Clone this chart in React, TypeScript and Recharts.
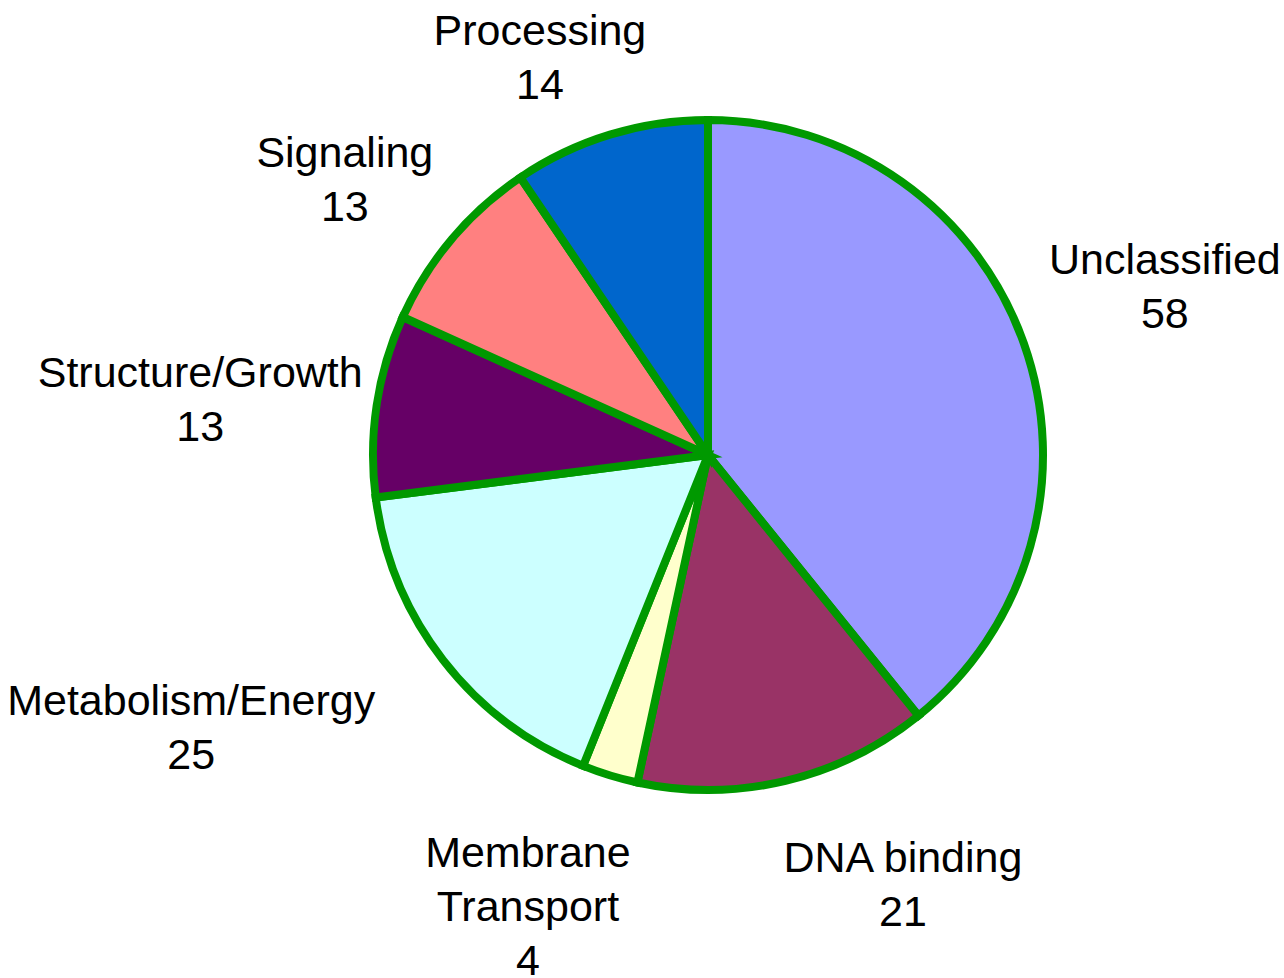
import { PieChart, Pie, Cell } from "recharts";

const categories = [
  "Unclassified",
  "DNA binding",
  "Membrane Transport",
  "Metabolism/Energy",
  "Structure/Growth",
  "Signaling",
  "Processing",
];
const counts = [58, 21, 4, 25, 13, 13, 14];
const sliceColors = ["#9999FF", "#993366", "#FFFFCC", "#CCFFFF", "#660066", "#FF8080", "#0066CC"];

// nudges applied on top of the radial label position (mimics the manual placement of the original)
const labelNudge: Record<string, [number, number]> = {
  Unclassified: [9, -11],
  "DNA binding": [85, -33],
  "Membrane Transport": [-41, -3],
  "Metabolism/Energy": [-141, -18],
  "Structure/Growth": [-38, 14],
  Signaling: [0, 30],
  Processing: [-29, 56],
};

const data = categories.map((name, i) => ({ name, value: counts[i] }));

const RADIAN = Math.PI / 180;
const FONT_SIZE = 43;
const LINE_H = 54;

const renderLabel = ({ cx, cy, midAngle, outerRadius, name, value }: any) => {
  const r = outerRadius + 140;
  const [nx, ny] = labelNudge[name] || [0, 0];
  const x = cx + r * Math.cos(-midAngle * RADIAN) + nx;
  const y = cy + r * Math.sin(-midAngle * RADIAN) + ny;
  const lines = name === "Membrane Transport" ? ["Membrane", "Transport", String(value)] : [name, String(value)];
  const top = y - ((lines.length - 1) * LINE_H) / 2 + 15;
  return (
    <text
      x={x}
      y={top}
      textAnchor="middle"
      fill="#000"
      fontSize={FONT_SIZE}
      fontFamily="'Liberation Sans', Arial, sans-serif"
    >
      {lines.map((l, i) => (
        <tspan key={i} x={x} y={top + i * LINE_H}>
          {l}
        </tspan>
      ))}
    </text>
  );
};

const App = () => {
  return (
    <div style={{ position: "absolute", left: 0, top: 0, width: 1284, height: 978, background: "#fff" }}>
      <PieChart width={1284} height={978} margin={{ top: 0, right: 0, bottom: 0, left: 0 }}>
        <Pie
          data={data}
          dataKey="value"
          nameKey="name"
          cx={708}
          cy={455}
          outerRadius={335}
          startAngle={90}
          endAngle={-270}
          stroke="#009900"
          strokeWidth={8}
          label={renderLabel}
          labelLine={false}
          isAnimationActive={false}
        >
          {data.map((d, i) => (
            <Cell key={d.name} fill={sliceColors[i]} stroke="#009900" strokeWidth={8} />
          ))}
        </Pie>
      </PieChart>
    </div>
  );
};

export default App;
